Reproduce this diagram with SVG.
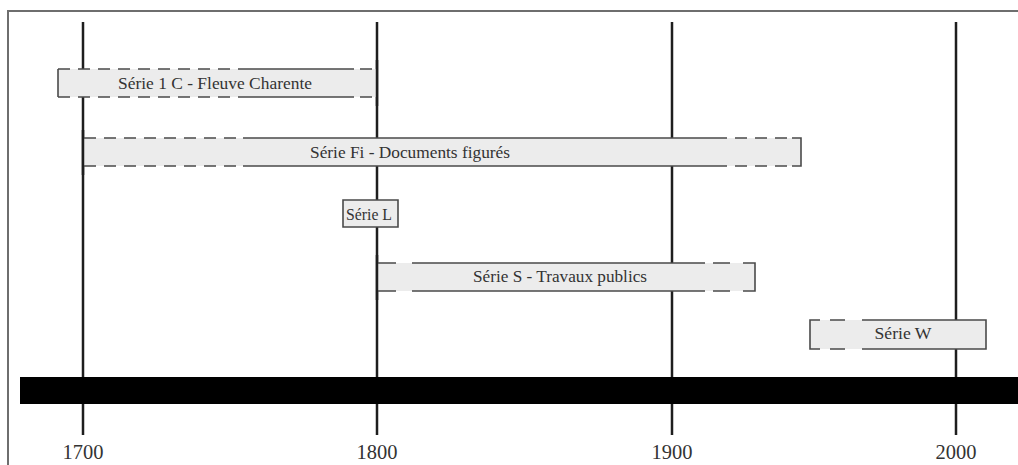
<svg xmlns="http://www.w3.org/2000/svg" width="1018" height="465" viewBox="0 0 1018 465">
<style>
.frame{stroke:#6e6e6e;stroke-width:2;fill:none}
.grid{stroke:#1e1e1e;stroke-width:2.5;fill:none}
.fill{fill:#ececec;stroke:none}
.solid{stroke:#4a4a4a;stroke-width:1.6;fill:none}
.dash{stroke:#4a4a4a;stroke-width:1.6;fill:none;stroke-dasharray:12 8}
.lbl{font-family:"Liberation Serif","Times New Roman",serif;font-size:17px;fill:#333;text-anchor:middle}
.yr{font-family:"Liberation Serif","Times New Roman",serif;font-size:22px;fill:#333;text-anchor:middle}
</style>
<rect width="1018" height="465" fill="#ffffff"/>
<path class="frame" d="M8 465V11H1018"/>
<g id="connectors">
<path class="grid" d="M83 22V435M377 22V435M672 22V435M956 22V435"/>
<rect x="20" y="377" width="998" height="27" fill="#000"/>
</g>
<g id="node-1c">
<rect class="fill" x="58" y="69" width="318" height="28"/>
<path class="solid" d="M58 69V97"/>
<path class="dash" d="M58 69H242M58 97H242"/>
<path class="solid" d="M242 69H354M242 97H354"/>
<path class="dash" d="M360 69H376M360 97H376"/>
<path class="grid" d="M377 60V106"/>
<text class="lbl" x="215" y="89" textLength="194" lengthAdjust="spacingAndGlyphs">Série 1 C - Fleuve Charente</text>
</g>
<g id="node-fi">
<rect class="fill" x="84" y="138" width="717" height="28"/>
<path class="grid" d="M83 130V175"/>
<path class="dash" d="M84 138H243M84 166H243"/>
<path class="solid" d="M243 138H727M243 166H727"/>
<path class="dash" d="M735 138H795M735 166H795"/>
<path class="solid" d="M792 138H801V166H792"/>
<text class="lbl" x="410" y="158" textLength="200" lengthAdjust="spacingAndGlyphs">Série Fi - Documents figurés</text>
</g>
<g id="node-l">
<rect class="fill" x="343" y="200" width="55" height="27"/>
<path class="solid" d="M343 200H398V227H343Z"/>
<text class="lbl" x="369" y="220" textLength="46" lengthAdjust="spacingAndGlyphs">Série L</text>
</g>
<g id="node-s">
<rect class="fill" x="378" y="263" width="377" height="28"/>
<path class="grid" d="M377 255V300"/>
<path class="solid" d="M378 263H396M378 291H396M412 263H705M412 291H705"/>
<path class="solid" d="M713 263H730M713 291H730"/>
<path class="solid" d="M743 263H755V291H743"/>
<text class="lbl" x="560" y="282" textLength="174" lengthAdjust="spacingAndGlyphs">Série S - Travaux publics</text>
</g>
<g id="node-w">
<rect class="fill" x="810" y="320" width="176" height="29"/>
<path class="solid" d="M820 320H810V349H820"/>
<path class="solid" d="M830 320H845M830 349H845"/>
<path class="solid" d="M862 320H986V349H862"/>
<text class="lbl" x="903" y="339" textLength="57" lengthAdjust="spacingAndGlyphs">Série W</text>
</g>
<g id="axis-labels">
<text class="yr" x="83" y="459" textLength="41" lengthAdjust="spacingAndGlyphs">1700</text>
<text class="yr" x="377" y="459" textLength="41" lengthAdjust="spacingAndGlyphs">1800</text>
<text class="yr" x="672" y="459" textLength="41" lengthAdjust="spacingAndGlyphs">1900</text>
<text class="yr" x="956" y="459" textLength="41" lengthAdjust="spacingAndGlyphs">2000</text>
</g>
</svg>
